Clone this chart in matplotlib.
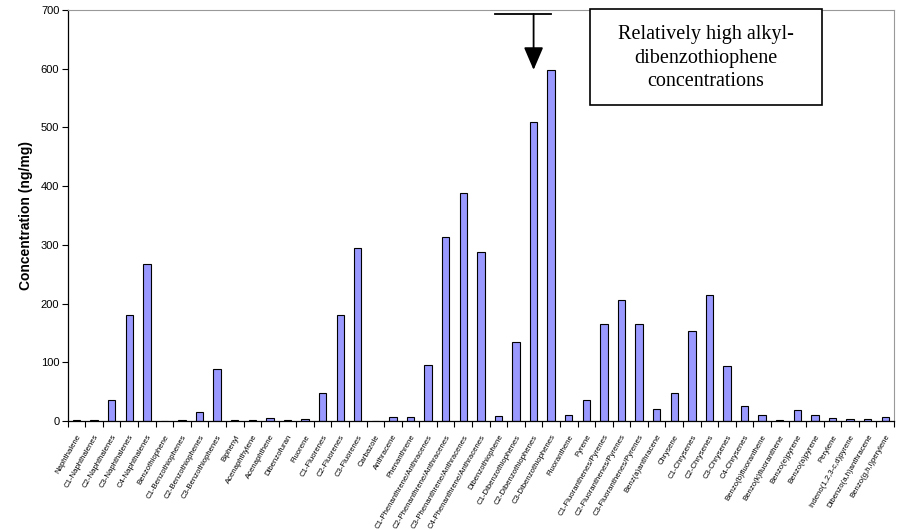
import numpy as np
import matplotlib
matplotlib.use("Agg")
import matplotlib.pyplot as plt
from matplotlib.patches import Rectangle

compounds = [
    "Naphthalene", "C1-Naphthalenes", "C2-Naphthalenes", "C3-Naphthalenes",
    "C4-Naphthalenes", "Benzothiophene", "C1-Benzothiophenes",
    "C2-Benzothiophenes", "C3-Benzothiophenes", "Biphenyl", "Acenaphthylene",
    "Acenaphthene", "Dibenzofuran", "Fluorene", "C1-Fluorenes", "C2-Fluorenes",
    "C3-Fluorenes", "Carbazole", "Anthracene", "Phenanthrene",
    "C1-Phenanthrene/Anthracenes", "C2-Phenanthrene/Anthracenes",
    "C3-Phenanthrene/Anthracenes", "C4-Phenanthrene/Anthracenes",
    "Dibenzothiophene", "C1-Dibenzothiophenes", "C2-Dibenzothiophenes",
    "C3-Dibenzothiophenes", "Fluoranthene", "Pyrene",
    "C1-Fluoranthenes/Pyrenes", "C2-Fluoranthenes/Pyrenes",
    "C3-Fluoranthenes/Pyrenes", "Benz(a)anthracene", "Chrysene",
    "C1-Chrysenes", "C2-Chrysenes", "C3-Chrysenes", "C4-Chrysenes",
    "Benzo(b)fluoranthene", "Benzo(k)fluoranthene", "Benzo(e)pyrene",
    "Benzo(a)pyrene", "Perylene", "Indeno(1,2,3-c,d)pyrene",
    "Dibenzo(a,h)anthracene", "Benzo(g,h,i)perylene",
]

# ng/mg
conc = [
    1, 2, 35, 180, 267, 0, 1, 15, 89, 1, 1, 5, 2, 4, 48, 180, 294, 0, 7, 7,
    96, 313, 388, 288, 9, 134, 510, 597, 10, 35, 165, 206, 165, 20, 47,
    153, 215, 93, 26, 10, 2, 19, 10, 5, 3, 3, 6,
]

note = "Relatively high alkyl-\ndibenzothiophene\nconcentrations"
arrow_target = "C2-Dibenzothiophenes"

plt.rcParams['font.family'] = ['Liberation Sans', 'DejaVu Sans']

fig = plt.figure(figsize=(9.09, 5.30), dpi=100)
ax = fig.add_axes([67.7 / 909, 1 - 421 / 530, (894 - 67.7) / 909, 411 / 530])

x = np.arange(len(compounds))
ax.bar(x, conc, width=0.42, color="#9999ff", edgecolor="black", linewidth=0.8)

ax.set_xlim(-0.5, len(compounds) - 0.5)
ax.set_ylim(0, 700)
ax.set_yticks(range(0, 701, 100))
ax.tick_params(axis="y", direction="out", length=4, width=0.8, labelsize=8, pad=2)

ax.set_xticks(x)
ax.set_xticklabels(compounds, rotation=60, ha="right", rotation_mode="anchor", fontsize=5.6)
ax.tick_params(axis="x", which="major", length=0, pad=9)
ax.set_xticks(np.arange(-0.5, len(compounds), 1.0), minor=True)
ax.tick_params(axis="x", which="minor", direction="out", length=4, width=0.8)

ax.set_ylabel("Concentration (ng/mg)", fontsize=10, fontweight="bold", labelpad=6)

ax.spines["top"].set_color("#999999")
ax.spines["right"].set_color("#999999")
ax.spines["left"].set_linewidth(0.9)
ax.spines["bottom"].set_linewidth(0.9)

# arrow pointing at the alkyl-dibenzothiophenes
xi = compounds.index(arrow_target)
ax.plot([xi - 2.2, xi + 1.0], [693, 693], color="black", lw=1.3, clip_on=False)
ax.annotate("", xy=(xi, 598), xytext=(xi, 693),
            arrowprops=dict(arrowstyle="-|>,head_length=1.4,head_width=0.6",
                            color="black", lw=1.3, shrinkA=0, shrinkB=0),
            annotation_clip=False)

box = Rectangle((0.632, 0.769), 0.281, 0.233, transform=ax.transAxes,
                facecolor="white", edgecolor="black", lw=1.2, clip_on=False, zorder=5)
ax.add_patch(box)
ax.text(0.7725, 0.883, note, transform=ax.transAxes, ha="center", va="center",
        fontsize=14.5, family=["Liberation Serif", "DejaVu Serif"],
        linespacing=1.35, zorder=6)

fig.savefig("out.png", dpi=100)
